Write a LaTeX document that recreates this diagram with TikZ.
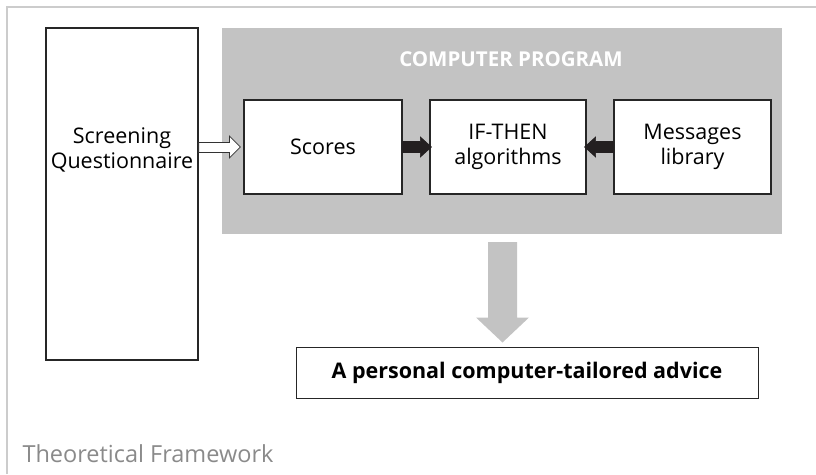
\documentclass[tikz,border=0pt]{standalone}
\usepackage{fontspec}
\setmainfont{Open Sans}
\usetikzlibrary{calc}
\definecolor{panelgray}{HTML}{C3C3C3}
\definecolor{framegray}{HTML}{CCCCCC}
\definecolor{textgray}{HTML}{8A8A8A}
\definecolor{arrowblack}{HTML}{231F20}
\tikzset{
  box/.style={draw=black!85, line width=1.2pt, fill=white, align=center, font=\fontsize{21.5}{25}\selectfont, inner sep=0pt},
  boxtext/.style={align=center, font=\fontsize{21.5}{25}\selectfont, inner sep=0pt},
  hollowarrow/.style={draw=black!80, line width=0.8pt, fill=white},
  solidarrow/.style={draw=arrowblack, line width=0.6pt, fill=arrowblack},
  bigarrow/.style={fill=panelgray, draw=none}
}
\begin{document}
\begin{tikzpicture}[x=1pt,y=-1pt]
\useasboundingbox (0,0) rectangle (816,474);
\draw[framegray, line width=2.5pt] (7,474) -- (7,7) -- (816,7);
\node[box, minimum width=152pt, minimum height=332pt] (sq) at (122,194) {};
\node[boxtext] (sqtext) at (122,150) {Screening\\Questionnaire};
\node[fill=panelgray, minimum width=560pt, minimum height=206pt, inner sep=0pt] (prog) at (502,131) {};
\node[text=white, font=\bfseries\fontsize{20.5}{24}\selectfont] (title) at (511,59) {COMPUTER PROGRAM};
\node[box, minimum width=158pt, minimum height=94pt] (scores) at (323,147) {Scores};
\node[box, minimum width=156pt, minimum height=94pt] (rules) at (508,147) {IF-THEN\\algorithms};
\node[box, minimum width=157pt, minimum height=94pt] (msgs) at (692.5,147) {Messages\\library};
\node[box, line width=1pt, minimum width=462pt, minimum height=51pt, font=\bfseries\fontsize{21.5}{25}\selectfont] (advice) at (527,372.5) {A personal computer-tailored advice};
\node[anchor=base west, text=textgray, font=\fontsize{23.5}{26}\selectfont] (tf) at (19,462) {Theoretical Framework};
% hollow arrow
\coordinate (hs) at (sq.east |- scores.west);
\draw[hollowarrow] ($(hs)+(0,-4.5)$) -- ($(scores.west)+(-14,-4.5)$) -- ($(scores.west)+(-14,-11)$) -- ($(scores.west)+(-3,0)$) -- ($(scores.west)+(-14,11)$) -- ($(scores.west)+(-14,5.5)$) -- ($(hs)+(0,5.5)$) -- cycle;
% solid right arrow
\draw[solidarrow] ($(scores.east)+(0,-5.5)$) -- ($(rules.west)+(-9,-5.5)$) -- ($(rules.west)+(-9,-10)$) -- ($(rules.west)+(2,0)$) -- ($(rules.west)+(-9,10)$) -- ($(rules.west)+(-9,5.5)$) -- ($(scores.east)+(0,5.5)$) -- cycle;
% solid left arrow
\draw[solidarrow] ($(msgs.west)+(0,-5.5)$) -- ($(rules.east)+(9,-5.5)$) -- ($(rules.east)+(9,-10)$) -- ($(rules.east)+(-2,0)$) -- ($(rules.east)+(9,10)$) -- ($(rules.east)+(9,5.5)$) -- ($(msgs.west)+(0,5.5)$) -- cycle;
% big down arrow
\coordinate (bstart) at ($(prog.south)+(0.5,8)$);
\coordinate (btip) at ($(advice.north)+(-24.5,-4)$);
\fill[bigarrow] (bstart -| btip) ++(-14.5,0) -- ++(29,0) -- ($(btip)+(14.5,-25)$) -- ($(btip)+(26.5,-25)$) -- (btip) -- ($(btip)+(-26.5,-25)$) -- ($(btip)+(-14.5,-25)$) -- cycle;
\end{tikzpicture}
\end{document}
